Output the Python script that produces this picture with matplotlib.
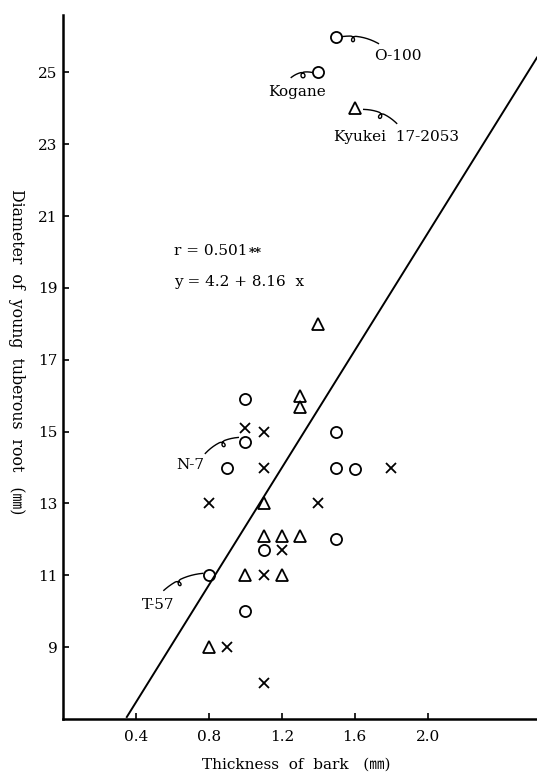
import numpy as np
import matplotlib
matplotlib.use("Agg")
import matplotlib.pyplot as plt
from matplotlib.lines import Line2D
from matplotlib.transforms import IdentityTransform

plt.rcParams['font.family'] = ['DejaVu Serif', 'Noto Sans CJK JP', 'DejaVu Sans']

# Thickness of bark (mm) vs. diameter of young tuberous root (mm)
circle_x = [1.5, 1.4, 1.0, 1.0, 1.5, 0.9, 1.5, 1.6, 1.5, 1.1, 0.8, 1.0]
circle_y = [26.0, 25.0, 15.9, 14.7, 15.0, 14.0, 14.0, 13.95, 12.0, 11.7, 11.0, 10.0]

triangle_x = [1.6, 1.4, 1.3, 1.3, 1.1, 1.1, 1.2, 1.3, 1.0, 1.2, 0.8]
triangle_y = [24.0, 18.0, 16.0, 15.7, 13.0, 12.1, 12.1, 12.1, 11.0, 11.0, 9.0]

cross_x = [1.0, 1.1, 1.1, 1.8, 0.8, 1.4, 1.2, 1.1, 0.9, 1.1]
cross_y = [15.1, 15.0, 14.0, 14.0, 13.0, 13.0, 11.7, 11.0, 9.0, 8.0]

# regression y = a + b x
reg_a = 4.2
reg_b = 8.16
reg_x = [0.35, 2.6]

x_ticks = [0.4, 0.8, 1.2, 1.6, 2.0]
x_tick_labels = ["0.4", "0.8", "1.2", "1.6", "2.0"]
y_ticks = [9, 11, 13, 15, 17, 19, 21, 23, 25]

# named cultivars: label, point
named = [
    ("O-100", (1.5, 26.0)),
    ("Kogane", (1.4, 25.0)),
    ("Kyukei  17-2053", (1.6, 24.0)),
    ("N-7", (1.0, 14.7)),
    ("T-57", (0.8, 11.0)),
]

W, H = 537, 772
fig = plt.figure(figsize=(W / 100, H / 100), dpi=100)
ax = fig.add_axes([63 / W, (H - 719) / H, 1 - 63 / W, (719 - 15) / H])
ax.set_xlim(0, 2.6)
ax.set_ylim(7.0, 26.6)

for s in ("top", "right"):
    ax.spines[s].set_visible(False)
for s in ("left", "bottom"):
    ax.spines[s].set_linewidth(1.8)

ax.set_xticks(x_ticks)
ax.set_xticklabels(x_tick_labels)
ax.set_yticks(y_ticks)
ax.tick_params(axis="both", direction="in", length=4, width=1.2, labelsize=11)
ax.tick_params(axis="x", pad=8)
ax.tick_params(axis="y", pad=4)

mk = dict(linestyle="none", markerfacecolor="none", markeredgecolor="black", clip_on=False)
ax.plot(circle_x, circle_y, marker="o", markersize=8, markeredgewidth=1.3, **mk)
ax.plot(triangle_x, triangle_y, marker="^", markersize=8, markeredgewidth=1.3, **mk)
ax.plot(cross_x, cross_y, marker="x", markersize=7, markeredgewidth=1.3, **mk)

rx = np.array(reg_x)
ax.plot(rx, reg_a + reg_b * rx, color="black", linewidth=1.4, clip_on=False)

t_r = fig.text(174 / W, 1 - 251 / H, "r = 0.501", fontsize=11, va="center")
ax.annotate("**", xy=(1, 1), xycoords=t_r, xytext=(1, -2), textcoords="offset points",
            fontsize=9, fontweight="bold", ha="left", va="top")
fig.text(174 / W, 1 - 282 / H, "y = 4.2 + 8.16  x", fontsize=11, va="center")

fig.canvas.draw()


def curl(xy, p0, p1, bend, t0=0.45, r=2.8, w=0.08, side=1):
    """Hand-drawn style leader with a small loop, offsets in pixels (y down)."""
    cx, cy = ax.transData.transform(xy)
    P0 = np.array([cx + p0[0], cy - p0[1]])
    P1 = np.array([cx + p1[0], cy - p1[1]])
    d = P1 - P0
    L = np.hypot(*d)
    T = d / L
    N = np.array([-T[1], T[0]])
    C = (P0 + P1) / 2 + N * bend
    s = np.linspace(0, 1, 800)[:, None]
    B = (1 - s) ** 2 * P0 + 2 * s * (1 - s) * C + s ** 2 * P1
    phi = np.clip((s - (t0 - w)) / (2 * w), 0, 1) * 2 * np.pi
    off = r * (np.sin(phi) * T + (1 - np.cos(phi)) * N * side)
    pts = B + off
    fig.add_artist(Line2D(pts[:, 0], pts[:, 1], transform=IdentityTransform(),
                          color="black", linewidth=1.0))


# leaders (pixel offsets from each point, y downwards)
curl(named[0][1], (6, 0), (42, 7), 6, t0=0.3, side=-1)
curl(named[1][1], (-6, 0), (-27, 5), -5, t0=0.45, side=1)
curl(named[2][1], (9, 1), (42, 15), 7, t0=0.5, side=-1)
curl(named[3][1], (-7, -5), (-40, 11), -7, t0=0.45, side=1)
curl(named[4][1], (-6, -2), (-45, 15), -7, t0=0.6, side=1)

label_pos = [(374, 56), (268, 92), (334, 137), (176, 465), (142, 605)]
for (name, _), (px, py) in zip(named, label_pos):
    fig.text(px / W, 1 - py / H, name, fontsize=11, ha="left", va="center")

fig.text(296 / W, 1 - 765 / H, "Thickness  of  bark   (\u339c)", fontsize=11,
         ha="center", va="center")
fig.text(16 / W, 1 - 352 / H, "Diameter  of  young  tuberous  root   (\u339c)",
         fontsize=11.3, ha="center", va="center", rotation=270)

fig.savefig("out.png", dpi=100)
